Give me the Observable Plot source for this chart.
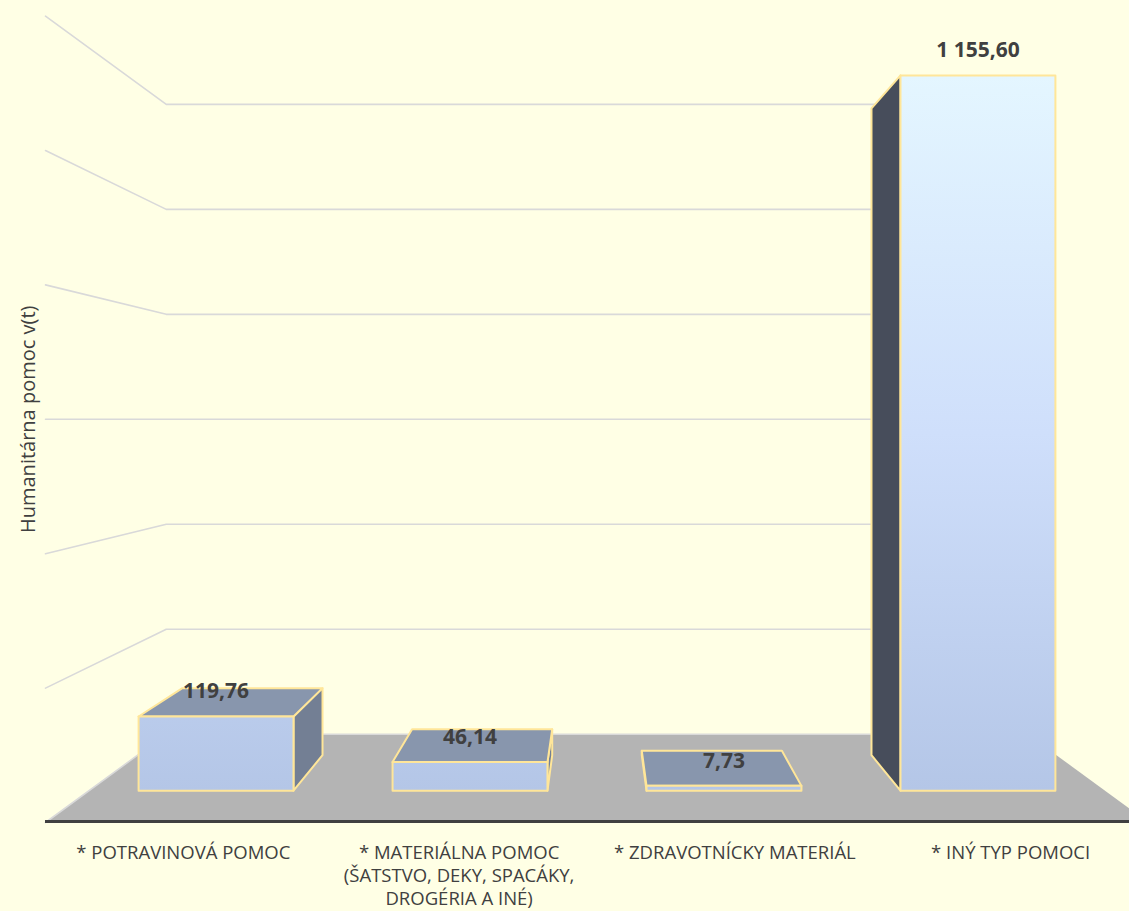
<!DOCTYPE html>
<html><head><meta charset="utf-8">
<script src="https://cdn.jsdelivr.net/npm/d3@7"></script>
<script src="https://cdn.jsdelivr.net/npm/@observablehq/plot@0.6"></script>
<style>
html,body{margin:0;padding:0;background:#ffffe5;overflow:hidden;}
#chart svg{display:block;overflow:visible;}
</style></head><body><div id="chart"></div>
<script>
// ---------- data ----------
const categories = [
  "* POTRAVINOVÁ POMOC",
  "* MATERIÁLNA POMOC\n(ŠATSTVO, DEKY, SPACÁKY,\nDROGÉRIA A INÉ)",
  "* ZDRAVOTNÍCKY MATERIÁL",
  "* INÝ TYP POMOCI"
];
const values = [119.76, 46.14, 7.73, 1155.60];
const valueLabels = ["119,76", "46,14", "7,73", "1 155,60"];
const gridTicks = [0, 200, 400, 600, 800, 1000, 1200];
const axisTitle = "Humanitárna pomoc v(t)";

// ---------- 3D layout (perspective around the centre of the data domain) ----------
const xDomain = [0, categories.length];
const yDomain = [0, 1200];
const vp = [(xDomain[0] + xDomain[1]) / 2, (yDomain[0] + yDomain[1]) / 2];
const depth = {front: 1, barFront: 0.921, barBack: 0.833, back: 0.781};
const halfWidth = 0.305;
function proj(X, Y, r) { return {x: vp[0] + r * (X - vp[0]), y: vp[1] + r * (Y - vp[1])}; }

const colors = {
  bg: "#ffffe5", floor: "#b4b4b4", grid: "#d9d9d9", axis: "#404040",
  top: "#8896ad", right: "#737f94", left: "#474d5b", edge: "#ffe699", text: "#404040"
};

// floor polygon
const floor = [[xDomain[0], 0, depth.front], [xDomain[1], 0, depth.front],
               [xDomain[1], 0, depth.back], [xDomain[0], 0, depth.back]].map(([X, Y, r]) => proj(X, Y, r));

// wall gridlines (left side wall + back wall)
const grid = [];
gridTicks.forEach(t => {
  [[xDomain[0], t, depth.front], [xDomain[0], t, depth.back], [xDomain[1], t, depth.back]]
    .forEach(([X, Y, r]) => grid.push({...proj(X, Y, r), t}));
});

// bar faces
const fronts = [], tops = [], sidesR = [], sidesL = [];
values.forEach((v, i) => {
  const c = i + 0.5, xl = c - halfWidth, xr = c + halfWidth;
  const f = depth.barFront, b = depth.barBack;
  const poly = (pts, arr) => pts.forEach(([X, Y, r]) => arr.push({...proj(X, Y, r), id: i}));
  poly([[xl, 0, f], [xr, 0, f], [xr, v, f], [xl, v, f]], fronts);
  if (v < vp[1]) poly([[xl, v, f], [xr, v, f], [xr, v, b], [xl, v, b]], tops);
  if (xr < vp[0]) poly([[xr, 0, f], [xr, 0, b], [xr, v, b], [xr, v, f]], sidesR);
  if (xl > vp[0]) poly([[xl, 0, f], [xl, 0, b], [xl, v, b], [xl, v, f]], sidesL);
});

const labelPts = values.map((v, i) => ({...proj(i + 0.5, v, depth.barFront), text: valueLabels[i]}));
const catPts = categories.map((c, i) => ({...proj(i + 0.5, 0, depth.front), text: c}));

const face = (data, fill) => Plot.line(data, {
  x: "x", y: "y", z: "id", curve: "linear-closed", fill, stroke: colors.edge,
  strokeWidth: 2, strokeLinejoin: "round"
});

const plot = Plot.plot({
  width: 1129, height: 911,
  marginLeft: 45, marginRight: 0, marginTop: 15.6, marginBottom: 89,
  style: {background: colors.bg, fontFamily: "'Open Sans', sans-serif", color: colors.text},
  x: {domain: xDomain, range: [45, 1148], axis: null},
  y: {domain: yDomain, axis: null},
  marks: [
    Plot.line(floor, {x: "x", y: "y", curve: "linear-closed", fill: colors.floor, stroke: "none"}),
    Plot.line(grid, {x: "x", y: "y", z: "t", stroke: colors.grid, strokeWidth: 1.6}),
    Plot.ruleY([0], {stroke: colors.axis, strokeWidth: 3, dy: -1}),
    face(sidesR, colors.right),
    face(sidesL, colors.left),
    face(tops, colors.top),
    face(fronts, "url(#frontGrad)"),
    Plot.text(labelPts, {x: "x", y: "y", text: "text", dy: -25, fontSize: 21, fontWeight: 700, fill: colors.text}),
    Plot.text(catPts, {x: "x", y: "y", text: "text", dy: 20, lineAnchor: "top", fontSize: 18.5, lineHeight: 1.24, fill: colors.text}),
    Plot.text([axisTitle], {frameAnchor: "left", textAnchor: "middle", rotate: -90, dx: -17, fontSize: 20, fill: colors.text})
  ]
});

// gradient on the front faces, spanning the value axis in user space
const ys = plot.scale("y");
const gTop = ys.apply(proj(0, d3.max(values), depth.barFront).y);
const gBot = ys.apply(proj(0, 0, depth.barFront).y);
const ns = "http://www.w3.org/2000/svg";
const defs = document.createElementNS(ns, "defs");
const grad = document.createElementNS(ns, "linearGradient");
grad.setAttribute("id", "frontGrad");
grad.setAttribute("gradientUnits", "userSpaceOnUse");
grad.setAttribute("x1", 0); grad.setAttribute("x2", 0);
grad.setAttribute("y1", gTop); grad.setAttribute("y2", gBot);
[["0", "#e4f6ff"], ["0.5", "#cfdffb"], ["1", "#b4c6e7"]].forEach(([o, c]) => {
  const s = document.createElementNS(ns, "stop");
  s.setAttribute("offset", o); s.setAttribute("stop-color", c);
  grad.appendChild(s);
});
defs.appendChild(grad);
plot.insertBefore(defs, plot.firstChild);
document.getElementById("chart").appendChild(plot);
</script></body></html>
